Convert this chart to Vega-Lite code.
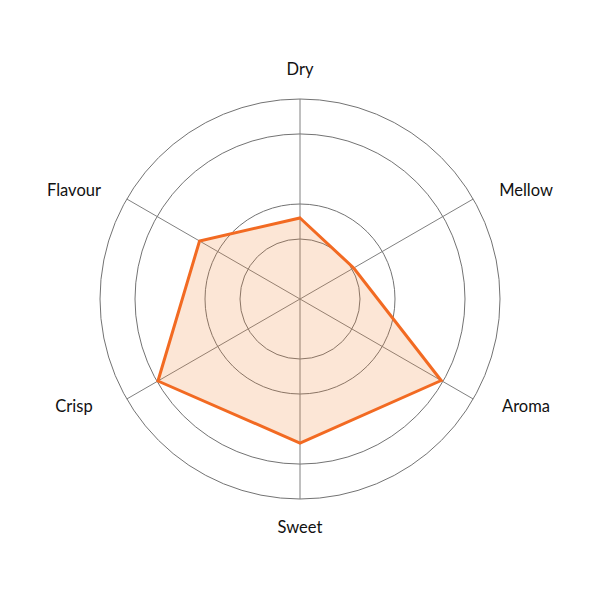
{
  "$schema": "https://vega.github.io/schema/vega-lite/v6.json",
  "width": 600,
  "height": 598,
  "padding": 0,
  "datasets": {
    "taste": [
      {"axis": "Dry", "value": 40.5},
      {"axis": "Mellow", "value": 31},
      {"axis": "Aroma", "value": 81.5},
      {"axis": "Sweet", "value": 72},
      {"axis": "Crisp", "value": 82},
      {"axis": "Flavour", "value": 58}
    ],
    "rings": [
      {"level": 30},
      {"level": 47.5},
      {"level": 82.5},
      {"level": 100}
    ]
  },
  "layer": [
    {
      "data": {"name": "rings"},
      "transform": [
        {"calculate": "0", "as": "cx"},
        {"calculate": "0", "as": "cy"}
      ],
      "mark": {"type": "point", "shape": "circle", "filled": false, "stroke": "#737373", "strokeWidth": 1, "opacity": 1},
      "encoding": {
        "x": {"field": "cx", "type": "quantitative", "scale": {"domain": [-150, 150], "nice": false, "zero": false}, "axis": null},
        "y": {"field": "cy", "type": "quantitative", "scale": {"domain": [-149.5, 149.5], "nice": false, "zero": false}, "axis": null},
        "size": {"field": "level", "type": "quantitative", "legend": null, "scale": {"type": "pow", "exponent": 2, "domain": [0, 100], "range": [0, 160000], "zero": true}}
      }
    },
    {
      "data": {"name": "taste"},
      "transform": [
        {"window": [{"op": "row_number", "as": "rn"}]},
        {"calculate": "(datum.rn - 1) * PI / 3", "as": "angle"},
        {"calculate": "0", "as": "cx"},
        {"calculate": "0", "as": "cy"},
        {"calculate": "100 * sin(datum.angle)", "as": "ex"},
        {"calculate": "100 * cos(datum.angle)", "as": "ey"}
      ],
      "mark": {"type": "rule", "stroke": "#808080", "strokeWidth": 1},
      "encoding": {
        "x": {"field": "cx", "type": "quantitative"},
        "y": {"field": "cy", "type": "quantitative"},
        "x2": {"field": "ex"},
        "y2": {"field": "ey"}
      }
    },
    {
      "data": {"name": "taste"},
      "transform": [
        {"window": [{"op": "row_number", "as": "rn"}]},
        {"calculate": "(datum.rn - 1) * PI / 3", "as": "angle"},
        {"calculate": "datum.value * sin(datum.angle)", "as": "px"},
        {"calculate": "datum.value * cos(datum.angle)", "as": "py"}
      ],
      "mark": {"type": "line", "interpolate": "linear-closed", "stroke": "#f26a22", "strokeWidth": 3, "fill": "#f08232", "fillOpacity": 0.2, "strokeJoin": "miter"},
      "encoding": {
        "x": {"field": "px", "type": "quantitative"},
        "y": {"field": "py", "type": "quantitative"},
        "order": {"field": "rn", "type": "quantitative"}
      }
    },
    {
      "data": {"name": "taste"},
      "transform": [
        {"window": [{"op": "row_number", "as": "rn"}]},
        {"calculate": "(datum.rn - 1) * PI / 3", "as": "angle"},
        {"calculate": "130.5 * sin(datum.angle)", "as": "lx"},
        {"calculate": "105.2 * cos(datum.angle) + 9.3 * pow(cos(datum.angle), 3)", "as": "ly"}
      ],
      "mark": {"type": "text", "font": "Lato", "fontSize": 16.5, "color": "#111111", "align": "center", "baseline": "middle"},
      "encoding": {
        "x": {"field": "lx", "type": "quantitative"},
        "y": {"field": "ly", "type": "quantitative"},
        "text": {"field": "axis", "type": "nominal"}
      }
    }
  ],
  "config": {"view": {"stroke": null}}
}
